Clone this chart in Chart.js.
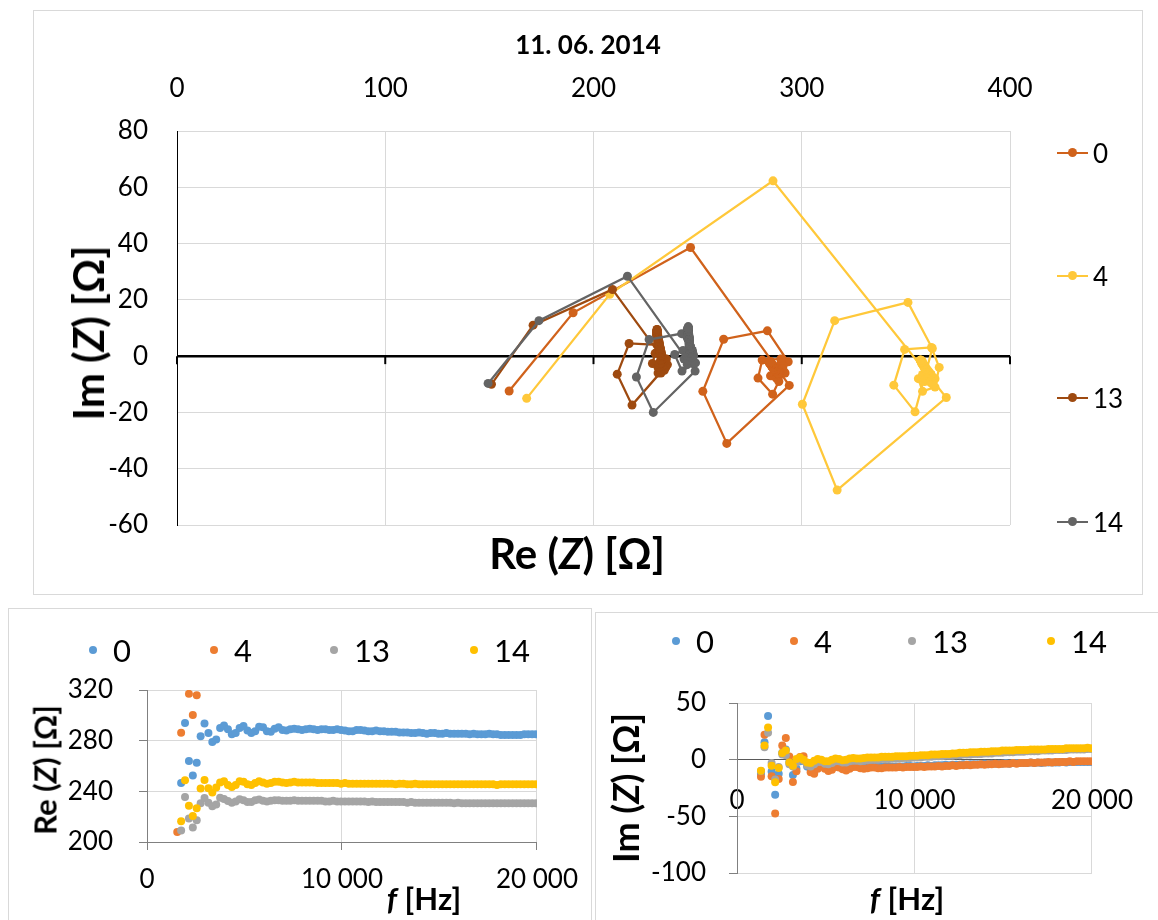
<!DOCTYPE html>
<html>
<head>
<meta charset="utf-8">
<title>11. 06. 2014</title>
<script src="https://cdn.jsdelivr.net/npm/chart.js@4.4.1/dist/chart.umd.min.js"></script>
<style>
  html, body { margin: 0; padding: 0; background: #fff; }
  body { position: relative; width: 1158px; height: 920px; overflow: hidden;
         font-family: Lato, "Open Sans", sans-serif; color: #000; }
  .box { position: absolute; border: 1px solid #d9d9d9; box-sizing: border-box; }
  canvas { position: absolute; }
  .lbl { position: absolute; white-space: nowrap; line-height: 1; font-weight: bold;
         transform: translate(-50%, -50%); }
  .rot { transform: translate(-50%, -50%) rotate(-90deg); }
  .tleg { position: absolute; left: 1057px; height: 0; display: flex; align-items: center; font-size: 26px; }
  .tleg i { position: relative; display: inline-block; width: 31px; height: 2.25px; background: var(--c); margin-right: 5px; }
  .tleg i::after { content: ''; position: absolute; left: 11px; top: -3.4px; width: 9px; height: 9px;
                   border-radius: 50%; background: var(--c); }
  .bleg { position: absolute; height: 0; display: flex; align-items: center; font-size: 31px; }
  .bleg i { display: inline-block; width: 8px; height: 8px; border-radius: 50%; background: var(--c); margin-right: 16px; }
</style>
</head>
<body>

<!-- top: Nyquist plot -->
<div class="box" style="left:33px;top:10px;width:1110px;height:585px"></div>
<canvas id="nyq" width="1110" height="585" style="left:33px;top:10px"></canvas>
<div class="lbl" style="left:588px;top:44px;font-size:26px">11. 06. 2014</div>
<div class="lbl rot" style="left:88px;top:333px;font-size:42px">Im (<i>Z</i>) [Ω]</div>
<div class="lbl" style="left:577px;top:553px;font-size:42px">Re (<i>Z</i>) [Ω]</div>
<div class="tleg" style="top:153px"><i style="--c:#D0621B"></i>0</div>
<div class="tleg" style="top:276px"><i style="--c:#FFC83A"></i>4</div>
<div class="tleg" style="top:398px"><i style="--c:#9E4A10"></i>13</div>
<div class="tleg" style="top:522px"><i style="--c:#646464"></i>14</div>

<!-- bottom left: Re(Z) vs f -->
<div class="box" style="left:8px;top:608px;width:584px;height:330px"></div>
<canvas id="reChart" width="584" height="312" style="left:8px;top:608px"></canvas>
<div class="bleg" style="left:89px;top:650px"><i style="--c:#5B9BD5"></i>0</div>
<div class="bleg" style="left:210px;top:650px"><i style="--c:#ED7D31"></i>4</div>
<div class="bleg" style="left:330px;top:650px"><i style="--c:#A5A5A5"></i>13</div>
<div class="bleg" style="left:470px;top:650px"><i style="--c:#FFC000"></i>14</div>
<div class="lbl rot" style="left:45px;top:770px;font-size:31px">Re (<i>Z</i>) [Ω]</div>
<div class="lbl" style="left:424px;top:898px;font-size:31px"><i>f</i> [Hz]</div>

<!-- bottom right: Im(Z) vs f -->
<div class="box" style="left:595px;top:612px;width:580px;height:330px"></div>
<canvas id="imChart" width="563" height="308" style="left:595px;top:612px"></canvas>
<div class="bleg" style="left:672px;top:641px"><i style="--c:#5B9BD5"></i>0</div>
<div class="bleg" style="left:790px;top:641px"><i style="--c:#ED7D31"></i>4</div>
<div class="bleg" style="left:908px;top:641px"><i style="--c:#A5A5A5"></i>13</div>
<div class="bleg" style="left:1047px;top:641px"><i style="--c:#FFC000"></i>14</div>
<div class="lbl rot" style="left:625px;top:788px;font-size:36px">Im (<i>Z</i>) [Ω]</div>
<div class="lbl" style="left:907px;top:898px;font-size:31px"><i>f</i> [Hz]</div>

<script>
/* measurement 11. 06. 2014 — impedance of four samples over frequency */

const seriesNames = ['0', '4', '13', '14'];

// frequency points [Hz]
const freq = [
  1350, 1550, 1750, 1950, 2150, 2350, 2550, 2750, 2950, 3150,
  3350, 3550, 3750, 3950, 4150, 4350, 4550, 4750, 4950, 5150,
  5350, 5550, 5750, 5950, 6150, 6350, 6550, 6750, 6950, 7150,
  7350, 7550, 7750, 7950, 8150, 8350, 8550, 8750, 8950, 9150,
  9350, 9550, 9750, 9950, 10150, 10350, 10550, 10750, 10950, 11150,
  11350, 11550, 11750, 11950, 12150, 12350, 12550, 12750, 12950, 13150,
  13350, 13550, 13750, 13950, 14150, 14350, 14550, 14750, 14950, 15150,
  15350, 15550, 15750, 15950, 16150, 16350, 16550, 16750, 16950, 17150,
  17350, 17550, 17750, 17950, 18150, 18350, 18550, 18750, 18950, 19150,
  19350, 19550, 19750, 19950
];

// Re(Z) [Ω]
const re0 = [
  159.5, 190.2, 246.6, 294, 264, 252.5, 262.5, 283.5, 293.5, 286,
  279, 281, 290, 292, 289, 285, 286, 290, 291.5, 288,
  286, 287.5, 291, 290.5, 287.5, 287, 289.5, 290.5, 288.5, 288,
  289, 289.5, 289, 288.5, 289, 289.5, 289, 288.5, 289, 289,
  288.5, 288.5, 289, 288.5, 288, 287.5, 287.5, 288.5, 288.5, 288,
  287.5, 287.5, 288, 287.5, 287.5, 287, 287, 287, 286.5, 286.5,
  286.5, 286, 286, 286.5, 286, 285.5, 286, 286, 285.5, 285.5,
  286, 285.5, 285.5, 285.5, 285.5, 285.5, 285, 285.5, 285, 285,
  285, 285.5, 285, 285, 284.5, 284.5, 284.5, 284.5, 284.5, 284.5,
  285, 285, 285, 285
];
const re4 = [
  167.9, 207.8, 286.2, 369.4, 317, 300.3, 315.8, 351, 362.7, 354.4,
  344.2, 349.4, 362.3, 366, 364, 358, 356, 360, 364, 363,
  359, 358, 361, 363.5, 362, 359.5, 359.5, 362, 363, 361.5,
  360, 360.5, 362, 362.5, 361.5, 361, 361.5, 362, 362, 361.5,
  361.5, 362, 362, 361.5, 361.5, 361.5, 361.5, 361, 361, 361,
  361, 360.5, 360.5, 360.5, 360.5, 360, 360, 360, 360, 359.5,
  359.5, 359.5, 359.5, 359.5, 359, 359, 359, 359, 359, 358.5,
  358.5, 358.5, 358.5, 358.5, 358.5, 358, 358, 358, 358, 358,
  358, 358, 357.5, 357.5, 357.5, 357.5, 357.5, 357.5, 357.5, 357,
  357, 357, 357, 357
];
const re13 = [
  151, 171, 209.1, 235.5, 218.5, 211.4, 217.1, 230.6, 234.7, 231,
  228.3, 229.6, 235, 234, 232.4, 231, 232, 233.7, 233, 231.5,
  231.5, 233, 233.5, 232.5, 232, 232.5, 233, 233, 232.5, 232.5,
  232.5, 233, 232.5, 232.5, 232.5, 232.5, 232.5, 232.5, 232.5, 232,
  232, 232.5, 232, 232, 232, 232, 232, 232, 232, 232,
  231.5, 232, 231.5, 231.5, 231.5, 231.5, 231.5, 231.5, 231.5, 231.5,
  231, 231.5, 231, 231, 231, 231, 231, 231, 231, 231,
  231, 231, 230.5, 231, 230.5, 230.5, 230.5, 230.5, 230.5, 230.5,
  230.5, 230.5, 230.5, 230.5, 230.5, 230.5, 230.5, 230.5, 230.5, 230.5,
  230.5, 230.5, 230.5, 230.5
];
const re14 = [
  149.4, 173.8, 216.3, 248.8, 228.7, 220.6, 226.7, 242.3, 249, 242.5,
  239, 243, 247, 248, 245, 243.5, 245, 248, 247.5, 245.5,
  245, 246.5, 248, 247, 246, 246.5, 247.5, 247.5, 247, 246.5,
  247, 247.5, 247, 247, 247, 247, 247, 246.5, 246.5, 246.5,
  246.5, 246.5, 246.5, 246, 246.5, 246, 246, 246, 246, 246,
  246, 246, 246, 246, 246, 246, 246, 245.5, 246, 246,
  245.5, 245.5, 246, 245.5, 245.5, 245.5, 245.5, 245.5, 245.5, 245.5,
  245.5, 245.5, 245.5, 245.5, 245.5, 245.5, 245.5, 245.5, 245.5, 245.5,
  245.5, 245.5, 245.5, 245, 245.5, 245.5, 245.5, 245.5, 245.5, 245.5,
  245.5, 245.5, 245.5, 245.5
];

// Im(Z) [Ω]
const im0 = [
  -12.4, 15.4, 38.6, -10.4, -31, -12.5, 6, 9, -2, -13.5,
  -7.8, -1.4, -1, -6, -9, -7, -3, -2.5, -5.5, -8,
  -7, -4, -3.5, -5.5, -7, -6.5, -5, -4.5, -5.5, -6.5,
  -6, -5.5, -5.5, -6, -6.5, -6, -6, -6, -6, -6,
  -6, -5.5, -5.5, -6, -5.5, -5.5, -5.5, -5, -5.5, -5,
  -5, -5, -4.5, -5, -4.5, -4.5, -4.5, -4, -4.5, -4,
  -4, -4, -4, -3.5, -4, -3.5, -3.5, -3.5, -3.5, -3,
  -3.5, -3, -3, -3, -3, -3, -2.5, -3, -2.5, -3,
  -2.5, -2.5, -2.5, -2.5, -2.5, -2, -2.5, -2, -2, -2,
  -2, -2, -2, -2
];
const im4 = [
  -15, 22, 62.3, -14.7, -47.6, -17.1, 12.6, 19.1, 2.7, -19.8,
  -10.3, 2.4, 3.1, -4, -11, -12.5, -8, -5.5, -8, -10,
  -9, -6.5, -7, -8.5, -9.5, -8, -6.5, -6.5, -7.5, -8,
  -7.5, -7, -7, -7.5, -7.5, -7, -7, -7, -7, -6.5,
  -7, -6.5, -6.5, -6.5, -6.5, -6, -6.5, -6, -6, -6,
  -5.5, -6, -5.5, -5.5, -5, -5.5, -5, -5, -4.5, -5,
  -4.5, -4.5, -4, -4.5, -4, -4, -3.5, -4, -3.5, -3.5,
  -3.5, -3, -3.5, -3, -3, -3, -2.5, -3, -2.5, -2.5,
  -2.5, -2, -2.5, -2, -2, -2, -2, -1.5, -2, -1.5,
  -1.5, -1.5, -1.5, -1.5
];
const im13 = [
  -10, 11, 23.7, -3, -17.4, -6.4, 4.5, 4, -4, -6,
  -2.6, 1, -1, -5, -6, -4, -2, -2, -3.5, -4,
  -3, -1.5, -1.5, -2.5, -2.5, -1.5, -1, -1, -1.5, -1,
  -0.5, 0, 0, 0, 0.5, 0.5, 0.5, 1, 1, 1,
  1.5, 1.5, 1.5, 2, 2, 2, 2.5, 2.5, 2.5, 3,
  3, 3, 3.5, 3.5, 3.5, 4, 4, 4.5, 4.5, 4.5,
  5, 5, 5, 5.5, 5.5, 5.5, 6, 6, 6, 6.5,
  6.5, 6.5, 7, 7, 7, 7.5, 7.5, 7.5, 7.5, 8,
  8, 8, 8, 8.5, 8.5, 8.5, 8.5, 9, 9, 9,
  9, 9, 9.5, 9.5
];
const im14 = [
  -9.7, 12.6, 28.4, -5.3, -20, -7.4, 5.9, 8, -2.4, -5.3,
  0.6, 2, 0, -2.5, -3, -1, 0.5, 0, -1.5, -1.5,
  0, 1, 0.5, -0.5, 0, 1, 1.5, 1, 1, 1.5,
  2, 2, 2, 2, 2.5, 2.5, 2.5, 2.5, 3, 3,
  3, 3, 3.5, 3.5, 3.5, 4, 4, 4, 4.5, 4.5,
  4.5, 5, 5, 5, 5.5, 5.5, 6, 6, 6, 6.5,
  6.5, 6.5, 7, 7, 7, 7.5, 7.5, 7.5, 8, 8,
  8, 8, 8.5, 8.5, 8.5, 8.5, 9, 9, 9, 9,
  9, 9.5, 9.5, 9.5, 9.5, 9.5, 10, 10, 10, 10,
  10, 10, 10.5, 10
];

const nyqColors = ['#D0621B', '#FFC83A', '#9E4A10', '#646464'];
const fColors   = ['#5B9BD5', '#ED7D31', '#A5A5A5', '#FFC000'];

const reSets = [re0, re4, re13, re14];
const imSets = [im0, im4, im13, im14];

Chart.defaults.font.family = 'Lato, "Open Sans", sans-serif';
Chart.defaults.color = '#000';

const spaced = v => String(v).replace(/\B(?=(\d{3})+(?!\d))/g, ' ');
const pairs  = (xs, ys) => xs.map((x, i) => ({ x, y: ys[i] }));
const noChrome = { legend: { display: false }, tooltip: { enabled: false } };

/* small tick marks hanging under the y = 0 axis of the Nyquist plot */
const zeroTicks = {
  id: 'zeroTicks',
  beforeDatasetsDraw(chart) {
    const { ctx, scales: { x, y } } = chart;
    const y0 = y.getPixelForValue(0);
    ctx.save();
    ctx.strokeStyle = '#000';
    ctx.lineWidth = 2;
    x.ticks.forEach(t => {
      const px = x.getPixelForValue(t.value);
      ctx.beginPath();
      ctx.moveTo(px, y0);
      ctx.lineTo(px, y0 + 8);
      ctx.stroke();
    });
    ctx.restore();
  }
};

/* ── NYQUIST: Im(Z) against Re(Z) ── */
new Chart(document.getElementById('nyq'), {
  type: 'scatter',
  data: {
    datasets: seriesNames.map((name, i) => ({
      label: name,
      data: pairs(reSets[i], imSets[i]),
      showLine: true,
      borderColor: nyqColors[i],
      backgroundColor: nyqColors[i],
      borderWidth: 2.25,
      pointRadius: 4.5,
      pointBorderWidth: 0,
      order: 3 - i
    }))
  },
  options: {
    responsive: false, animation: false,
    layout: { padding: { top: 0, left: 0, right: 133, bottom: 70 } },
    plugins: noChrome,
    scales: {
      x: {
        position: 'top', min: 0, max: 400,
        ticks: { stepSize: 100, padding: 27, font: { size: 26 } },
        grid: { color: '#d9d9d9', drawTicks: false },
        border: { display: false },
        afterFit: s => { s.height = 121; }
      },
      y: {
        min: -60, max: 80,
        ticks: { stepSize: 20, padding: 29, font: { size: 26 } },
        grid: {
          color: c => c.tick.value === 0 ? '#000' : '#d9d9d9',
          lineWidth: c => c.tick.value === 0 ? 2.5 : 1,
          drawTicks: false
        },
        border: { color: '#000', width: 1 },
        afterFit: s => { s.width = 144; }
      }
    }
  },
  plugins: [zeroTicks]
});

/* ── Re(Z) against f ── */
new Chart(document.getElementById('reChart'), {
  type: 'scatter',
  data: {
    datasets: seriesNames.map((name, i) => ({
      label: name,
      data: pairs(freq, reSets[i]),
      backgroundColor: fColors[i],
      borderColor: fColors[i],
      pointRadius: 4,
      pointBorderWidth: 0,
      order: 3 - i
    }))
  },
  options: {
    responsive: false, animation: false,
    layout: { padding: { top: 82, left: 0, right: 55, bottom: 0 } },
    plugins: noChrome,
    scales: {
      x: {
        min: 0, max: 20000,
        ticks: { stepSize: 10000, padding: 14, font: { size: 26 }, callback: spaced },
        grid: { color: '#d9d9d9', tickColor: '#808080', tickLength: 8 },
        border: { color: '#808080' },
        afterFit: s => { s.height = 78; }
      },
      y: {
        min: 200, max: 320,
        ticks: { stepSize: 40, padding: 26, font: { size: 26 } },
        grid: { color: '#d9d9d9', tickColor: '#808080', tickLength: 8 },
        border: { color: '#808080' },
        afterFit: s => { s.width = 139; }
      }
    }
  }
});

/* ── Im(Z) against f ── */
new Chart(document.getElementById('imChart'), {
  type: 'scatter',
  data: {
    datasets: seriesNames.map((name, i) => ({
      label: name,
      data: pairs(freq, imSets[i]),
      backgroundColor: fColors[i],
      borderColor: fColors[i],
      pointRadius: 4,
      pointBorderWidth: 0,
      order: 3 - i
    }))
  },
  options: {
    responsive: false, animation: false,
    layout: { padding: { top: 91, left: 0, right: 52, bottom: 47 } },
    plugins: noChrome,
    scales: {
      x: {
        position: { y: 0 }, min: 0, max: 20000,
        ticks: { stepSize: 10000, padding: 25, font: { size: 26 }, callback: spaced },
        grid: { color: '#d9d9d9', drawTicks: false },
        border: { color: '#595959' },
        afterFit: s => { s.height = 0; }
      },
      y: {
        position: 'left', min: -100, max: 50,
        ticks: { stepSize: 50, padding: 23, font: { size: 26 } },
        grid: { color: '#d9d9d9', tickColor: '#808080', tickLength: 8 },
        border: { color: '#808080' },
        afterFit: s => { s.width = 142; }
      }
    }
  }
});
</script>
</body>
</html>
